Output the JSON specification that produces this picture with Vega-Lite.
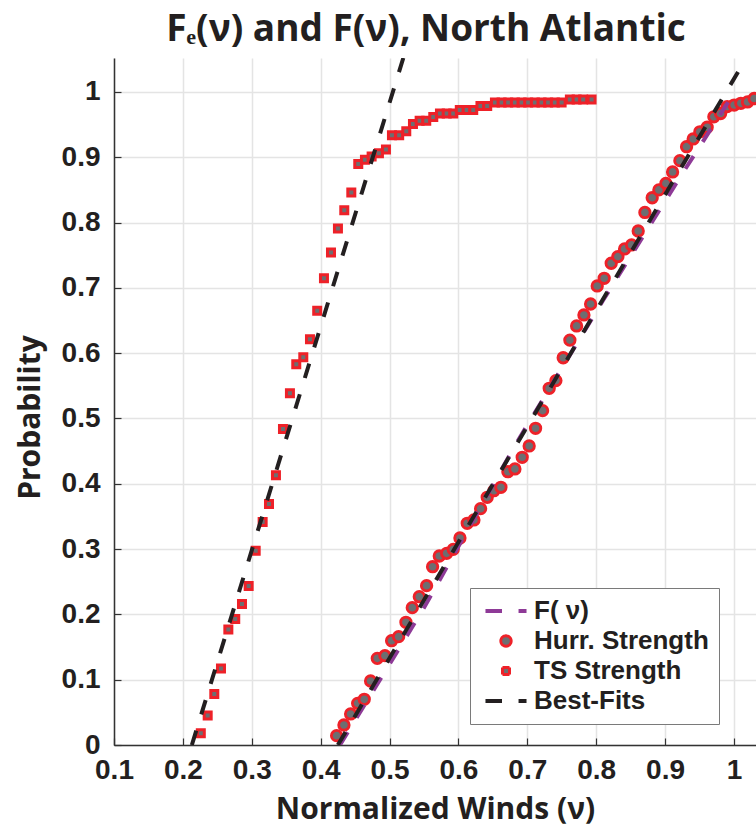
{
  "$schema": "https://vega.github.io/schema/vega-lite/v6.json",
  "width": 642,
  "height": 687,
  "autosize": {"type": "none"},
  "padding": {"left": 114, "top": 58, "right": 0, "bottom": 82},
  "background": "white",
  "title": {
    "text": "Fₑ(ν) and F(ν), North Atlantic",
    "font": "Open Sans",
    "fontSize": 37,
    "fontWeight": "bold",
    "color": "#231F20",
    "offset": 9,
    "dx": -9
  },
  "datasets": {
    "pts": [
      {"series": "TS Strength", "x": 0.226, "y": 0.018},
      {"series": "TS Strength", "x": 0.236, "y": 0.045},
      {"series": "TS Strength", "x": 0.2456, "y": 0.078},
      {"series": "TS Strength", "x": 0.2553, "y": 0.117},
      {"series": "TS Strength", "x": 0.266, "y": 0.177},
      {"series": "TS Strength", "x": 0.276, "y": 0.193},
      {"series": "TS Strength", "x": 0.2858, "y": 0.216},
      {"series": "TS Strength", "x": 0.2955, "y": 0.2435},
      {"series": "TS Strength", "x": 0.3057, "y": 0.2976},
      {"series": "TS Strength", "x": 0.3158, "y": 0.3415},
      {"series": "TS Strength", "x": 0.325, "y": 0.369},
      {"series": "TS Strength", "x": 0.3351, "y": 0.413},
      {"series": "TS Strength", "x": 0.3453, "y": 0.484},
      {"series": "TS Strength", "x": 0.3554, "y": 0.5386},
      {"series": "TS Strength", "x": 0.3646, "y": 0.583},
      {"series": "TS Strength", "x": 0.3748, "y": 0.5936},
      {"series": "TS Strength", "x": 0.3845, "y": 0.6213},
      {"series": "TS Strength", "x": 0.395, "y": 0.665},
      {"series": "TS Strength", "x": 0.4048, "y": 0.7147},
      {"series": "TS Strength", "x": 0.415, "y": 0.754},
      {"series": "TS Strength", "x": 0.4251, "y": 0.791},
      {"series": "TS Strength", "x": 0.4343, "y": 0.819},
      {"series": "TS Strength", "x": 0.4445, "y": 0.846},
      {"series": "TS Strength", "x": 0.4546, "y": 0.8897},
      {"series": "TS Strength", "x": 0.4643, "y": 0.896},
      {"series": "TS Strength", "x": 0.474, "y": 0.901},
      {"series": "TS Strength", "x": 0.4846, "y": 0.906},
      {"series": "TS Strength", "x": 0.4948, "y": 0.912},
      {"series": "TS Strength", "x": 0.5035, "y": 0.9336},
      {"series": "TS Strength", "x": 0.514, "y": 0.9336},
      {"series": "TS Strength", "x": 0.5243, "y": 0.94},
      {"series": "TS Strength", "x": 0.534, "y": 0.951},
      {"series": "TS Strength", "x": 0.5437, "y": 0.956},
      {"series": "TS Strength", "x": 0.5533, "y": 0.956},
      {"series": "TS Strength", "x": 0.5635, "y": 0.9617},
      {"series": "TS Strength", "x": 0.5732, "y": 0.967},
      {"series": "TS Strength", "x": 0.583, "y": 0.967},
      {"series": "TS Strength", "x": 0.5925, "y": 0.967},
      {"series": "TS Strength", "x": 0.602, "y": 0.9724},
      {"series": "TS Strength", "x": 0.612, "y": 0.9724},
      {"series": "TS Strength", "x": 0.6215, "y": 0.9724},
      {"series": "TS Strength", "x": 0.632, "y": 0.9786},
      {"series": "TS Strength", "x": 0.6418, "y": 0.9786},
      {"series": "TS Strength", "x": 0.653, "y": 0.984},
      {"series": "TS Strength", "x": 0.6627, "y": 0.984},
      {"series": "TS Strength", "x": 0.6723, "y": 0.984},
      {"series": "TS Strength", "x": 0.682, "y": 0.984},
      {"series": "TS Strength", "x": 0.6917, "y": 0.984},
      {"series": "TS Strength", "x": 0.7013, "y": 0.984},
      {"series": "TS Strength", "x": 0.711, "y": 0.984},
      {"series": "TS Strength", "x": 0.7207, "y": 0.984},
      {"series": "TS Strength", "x": 0.7303, "y": 0.984},
      {"series": "TS Strength", "x": 0.74, "y": 0.984},
      {"series": "TS Strength", "x": 0.7498, "y": 0.984},
      {"series": "TS Strength", "x": 0.7618, "y": 0.9886},
      {"series": "TS Strength", "x": 0.7716, "y": 0.9886},
      {"series": "TS Strength", "x": 0.7811, "y": 0.9886},
      {"series": "TS Strength", "x": 0.7933, "y": 0.9886},
      {"series": "Hurr. Strength", "x": 0.4232, "y": 0.0143},
      {"series": "Hurr. Strength", "x": 0.4338, "y": 0.0306},
      {"series": "Hurr. Strength", "x": 0.4435, "y": 0.0475},
      {"series": "Hurr. Strength", "x": 0.4537, "y": 0.0638},
      {"series": "Hurr. Strength", "x": 0.4633, "y": 0.07},
      {"series": "Hurr. Strength", "x": 0.4725, "y": 0.098},
      {"series": "Hurr. Strength", "x": 0.4822, "y": 0.1327},
      {"series": "Hurr. Strength", "x": 0.4933, "y": 0.1368},
      {"series": "Hurr. Strength", "x": 0.503, "y": 0.1597},
      {"series": "Hurr. Strength", "x": 0.5132, "y": 0.1659},
      {"series": "Hurr. Strength", "x": 0.5238, "y": 0.1879},
      {"series": "Hurr. Strength", "x": 0.533, "y": 0.2103},
      {"series": "Hurr. Strength", "x": 0.5432, "y": 0.2271},
      {"series": "Hurr. Strength", "x": 0.5538, "y": 0.244},
      {"series": "Hurr. Strength", "x": 0.5625, "y": 0.273},
      {"series": "Hurr. Strength", "x": 0.5722, "y": 0.2894},
      {"series": "Hurr. Strength", "x": 0.5829, "y": 0.2935},
      {"series": "Hurr. Strength", "x": 0.5925, "y": 0.2996},
      {"series": "Hurr. Strength", "x": 0.6022, "y": 0.317},
      {"series": "Hurr. Strength", "x": 0.6128, "y": 0.3395},
      {"series": "Hurr. Strength", "x": 0.6225, "y": 0.3446},
      {"series": "Hurr. Strength", "x": 0.6322, "y": 0.3619},
      {"series": "Hurr. Strength", "x": 0.6418, "y": 0.3793},
      {"series": "Hurr. Strength", "x": 0.6515, "y": 0.3894},
      {"series": "Hurr. Strength", "x": 0.6617, "y": 0.3946},
      {"series": "Hurr. Strength", "x": 0.6718, "y": 0.4185},
      {"series": "Hurr. Strength", "x": 0.682, "y": 0.4227},
      {"series": "Hurr. Strength", "x": 0.6926, "y": 0.4406},
      {"series": "Hurr. Strength", "x": 0.7027, "y": 0.4579},
      {"series": "Hurr. Strength", "x": 0.712, "y": 0.485},
      {"series": "Hurr. Strength", "x": 0.7222, "y": 0.512},
      {"series": "Hurr. Strength", "x": 0.7318, "y": 0.5462},
      {"series": "Hurr. Strength", "x": 0.7415, "y": 0.558},
      {"series": "Hurr. Strength", "x": 0.7521, "y": 0.593},
      {"series": "Hurr. Strength", "x": 0.7618, "y": 0.62},
      {"series": "Hurr. Strength", "x": 0.7716, "y": 0.6417},
      {"series": "Hurr. Strength", "x": 0.7822, "y": 0.6585},
      {"series": "Hurr. Strength", "x": 0.7919, "y": 0.6753},
      {"series": "Hurr. Strength", "x": 0.8015, "y": 0.7029},
      {"series": "Hurr. Strength", "x": 0.8116, "y": 0.7147},
      {"series": "Hurr. Strength", "x": 0.8218, "y": 0.7377},
      {"series": "Hurr. Strength", "x": 0.8315, "y": 0.7478},
      {"series": "Hurr. Strength", "x": 0.8412, "y": 0.7596},
      {"series": "Hurr. Strength", "x": 0.8514, "y": 0.7657},
      {"series": "Hurr. Strength", "x": 0.861, "y": 0.7871},
      {"series": "Hurr. Strength", "x": 0.8707, "y": 0.8155},
      {"series": "Hurr. Strength", "x": 0.8813, "y": 0.838},
      {"series": "Hurr. Strength", "x": 0.891, "y": 0.85},
      {"series": "Hurr. Strength", "x": 0.9012, "y": 0.86},
      {"series": "Hurr. Strength", "x": 0.9109, "y": 0.8775},
      {"series": "Hurr. Strength", "x": 0.9215, "y": 0.8948},
      {"series": "Hurr. Strength", "x": 0.9312, "y": 0.9162},
      {"series": "Hurr. Strength", "x": 0.9408, "y": 0.928},
      {"series": "Hurr. Strength", "x": 0.9505, "y": 0.939},
      {"series": "Hurr. Strength", "x": 0.9611, "y": 0.946},
      {"series": "Hurr. Strength", "x": 0.9708, "y": 0.962},
      {"series": "Hurr. Strength", "x": 0.9806, "y": 0.967},
      {"series": "Hurr. Strength", "x": 0.9901, "y": 0.9775},
      {"series": "Hurr. Strength", "x": 1.0003, "y": 0.98},
      {"series": "Hurr. Strength", "x": 1.01, "y": 0.9826},
      {"series": "Hurr. Strength", "x": 1.0197, "y": 0.9847},
      {"series": "Hurr. Strength", "x": 1.0293, "y": 0.99}
    ],
    "theory": [
      {"series": "F( ν)", "x": 0.428, "y": 0},
      {"series": "F( ν)", "x": 0.55, "y": 0.21},
      {"series": "F( ν)", "x": 0.684, "y": 0.462},
      {"series": "F( ν)", "x": 0.81, "y": 0.681},
      {"series": "F( ν)", "x": 0.922, "y": 0.87},
      {"series": "F( ν)", "x": 0.995, "y": 0.99}
    ],
    "fits": [
      {"series": "Best-Fits", "group": "TS", "x": 0.213, "y": 0},
      {"series": "Best-Fits", "group": "TS", "x": 0.52, "y": 1.052},
      {"series": "Best-Fits", "group": "Hurr", "x": 0.425, "y": 0},
      {"series": "Best-Fits", "group": "Hurr", "x": 1.018, "y": 1.052}
    ]
  },
  "config": {
    "view": {"stroke": null},
    "axis": {
      "labelFont": "Liberation Sans",
      "labelFontWeight": "bold",
      "labelFontSize": 28,
      "labelColor": "#231F20",
      "labelFlush": false,
      "labelOverlap": false,
      "titleFont": "Open Sans",
      "titleFontWeight": "bold",
      "titleFontSize": 30,
      "titleColor": "#231F20",
      "gridColor": "#E4E4E4",
      "gridWidth": 1.5,
      "domainColor": "#333333",
      "domainWidth": 1.5,
      "tickColor": "#333333",
      "tickWidth": 1.2
    },
    "legend": {"symbolDash": [1, 0]}
  },
  "encoding": {
    "x": {
      "field": "x",
      "type": "quantitative",
      "scale": {"domain": [0.1, 1.032], "nice": false, "zero": false},
      "axis": {
        "title": "Normalized Winds (ν)",
        "values": [0.1, 0.2, 0.3, 0.4, 0.5, 0.6, 0.7, 0.8, 0.9, 1.0],
        "format": "~g",
        "tickSize": -7,
        "labelPadding": 18,
        "titleY": 64,
        "titleBaseline": "middle"
      }
    },
    "y": {
      "field": "y",
      "type": "quantitative",
      "scale": {"domain": [0, 1.052], "nice": false},
      "axis": {
        "title": "Probability",
        "values": [0, 0.1, 0.2, 0.3, 0.4, 0.5, 0.6, 0.7, 0.8, 0.9, 1.0],
        "format": "~g",
        "tickSize": -7,
        "labelPadding": 21,
        "titleX": -84,
        "titleY": 359,
        "titleBaseline": "middle"
      }
    }
  },
  "layer": [
    {
      "data": {"name": "pts"},
      "mark": {"type": "point", "filled": true, "opacity": 1, "clip": true},
      "encoding": {
        "shape": {
          "field": "series",
          "type": "nominal",
          "scale": {
            "domain": ["F( ν)", "Hurr. Strength", "TS Strength", "Best-Fits"],
            "range": ["M-3.6,0H-0.7M2.2,0H3.6", "circle", "square", "M-3.6,0H-0.7M2.2,0H3.6"]
          },
          "legend": {
            "title": null,
            "orient": "none",
            "legendX": 356,
            "legendY": 530,
            "padding": 10,
            "strokeColor": "#7A7A7A",
            "fillColor": "white",
            "labelFont": "Liberation Sans",
            "labelFontWeight": "bold",
            "labelFontSize": 26,
            "labelColor": "#231F20",
            "labelLimit": 400,
            "labelOffset": 15,
            "symbolOffset": 13,
            "rowPadding": 4,
            "encode": {
              "symbols": {
                "update": {
                  "strokeWidth": {"signal": "datum.value === 'F( ν)' || datum.value === 'Best-Fits' ? 4 : 2.8"}
                }
              }
            }
          }
        },
        "fill": {
          "field": "series",
          "type": "nominal",
          "scale": {
            "domain": ["F( ν)", "Hurr. Strength", "TS Strength", "Best-Fits"],
            "range": ["#8E3A97", "#6D6E71", "#6D6E71", "#231F20"]
          }
        },
        "stroke": {
          "field": "series",
          "type": "nominal",
          "scale": {
            "domain": ["F( ν)", "Hurr. Strength", "TS Strength", "Best-Fits"],
            "range": ["#8E3A97", "#EE2128", "#EE2128", "#231F20"]
          }
        },
        "size": {
          "field": "series",
          "type": "nominal",
          "scale": {
            "type": "ordinal",
            "domain": ["F( ν)", "Hurr. Strength", "TS Strength", "Best-Fits"],
            "range": [130, 110, 49, 130]
          }
        },
        "strokeWidth": {
          "field": "series",
          "type": "nominal",
          "scale": {
            "type": "ordinal",
            "domain": ["F( ν)", "Hurr. Strength", "TS Strength", "Best-Fits"],
            "range": [4, 2.8, 3, 4]
          }
        }
      }
    },
    {
      "data": {"name": "theory"},
      "mark": {"type": "line", "strokeDash": [15, 17], "strokeWidth": 4, "clip": true},
      "encoding": {
        "stroke": {"field": "series", "type": "nominal"}
      }
    },
    {
      "data": {"name": "fits"},
      "mark": {"type": "line", "strokeDash": [15, 17], "strokeWidth": 4, "clip": true},
      "encoding": {
        "detail": {"field": "group"},
        "stroke": {"field": "series", "type": "nominal"}
      }
    }
  ]
}
